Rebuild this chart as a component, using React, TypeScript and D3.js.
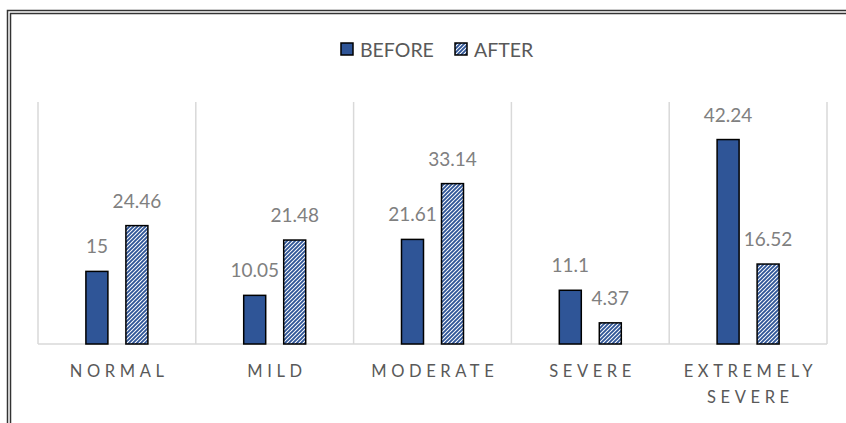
import React from "react";
import * as d3 from "d3";

const categories = ["NORMAL", "MILD", "MODERATE", "SEVERE", "EXTREMELY SEVERE"];
const seriesNames = ["BEFORE", "AFTER"];
const before = [15, 10.05, 21.61, 11.1, 42.24];
const after = [24.46, 21.48, 33.14, 4.37, 16.52];

const W = 846;
const H = 423;
const plot = { left: 38, right: 827, top: 102, bottom: 344 };
const BLUE = "#2F5597";
const FONT = "Lato, 'Open Sans', sans-serif";

export default function App() {
  const x = d3.scaleBand<string>().domain(categories).range([plot.left, plot.right]);
  const y = d3.scaleLinear().domain([0, 50]).range([plot.bottom, plot.top]);
  const barW = 22;
  const offsets = [-20, 20];
  const series = [before, after];

  const bounds = d3.range(categories.length + 1).map((i) => plot.left + i * x.bandwidth());

  return (
    <svg
      width={W}
      height={H}
      style={{ position: "absolute", left: 0, top: 0, background: "#fff" }}
      fontFamily={FONT}
    >
      <defs>
        <pattern id="stripes" patternUnits="userSpaceOnUse" width="4" height="4">
          <rect width="4" height="4" fill="#fff" />
          <path d="M-1,1 L1,-1 M0,4 L4,0 M3,5 L5,3" stroke={BLUE} strokeWidth="1.9" />
        </pattern>
      </defs>

      {/* double frame */}
      <rect x={7.5} y={10.5} width={W + 10} height={H + 10} fill="none" stroke="#333" strokeWidth={1.5} />
      <rect x={10.5} y={13.5} width={W + 10} height={H + 10} fill="none" stroke="#333" strokeWidth={1.5} />

      {/* category separators */}
      {bounds.map((b, i) => (
        <line key={i} x1={b} x2={b} y1={plot.top} y2={plot.bottom} stroke="#d9d9d9" strokeWidth={1.5} />
      ))}
      <line x1={plot.left} x2={plot.right} y1={plot.bottom} y2={plot.bottom} stroke="#d9d9d9" strokeWidth={1.5} />

      {/* bars */}
      {series.map((vals, s) =>
        vals.map((v, i) => {
          const cx = (x(categories[i]) as number) + x.bandwidth() / 2 + offsets[s];
          return (
            <g key={`${s}-${i}`}>
              <rect
                x={cx - barW / 2}
                y={y(v)}
                width={barW}
                height={y(0) - y(v)}
                fill={s === 0 ? BLUE : "url(#stripes)"}
                stroke="#000"
                strokeWidth={1.5}
              />
              <text
                x={cx}
                y={y(v) - 18}
                textAnchor="middle"
                fontSize={19}
                fill="#808080"
              >
                {v}
              </text>
            </g>
          );
        })
      )}

      {/* category labels */}
      {categories.map((c) => {
        const cx = (x(c) as number) + x.bandwidth() / 2;
        const words = c === "EXTREMELY SEVERE" ? ["EXTREMELY", "SEVERE"] : [c];
        return (
          <text key={c} textAnchor="middle" fontSize={16.5} fill="#595959" letterSpacing={4.6}>
            {words.map((w, k) => (
              <tspan key={k} x={cx + 2.3} y={377 + k * 26}>
                {w}
              </tspan>
            ))}
          </text>
        );
      })}

      {/* legend */}
      {seriesNames.map((n, i) => {
        const lx = [341, 455][i];
        return (
          <g key={n}>
            <rect
              x={lx}
              y={43}
              width={12}
              height={12}
              fill={i === 0 ? BLUE : "url(#stripes)"}
              stroke="#000"
              strokeWidth={1.5}
            />
            <text x={lx + 19} y={56.5} fontSize={19.5} fill="#595959">
              {n}
            </text>
          </g>
        );
      })}
    </svg>
  );
}
